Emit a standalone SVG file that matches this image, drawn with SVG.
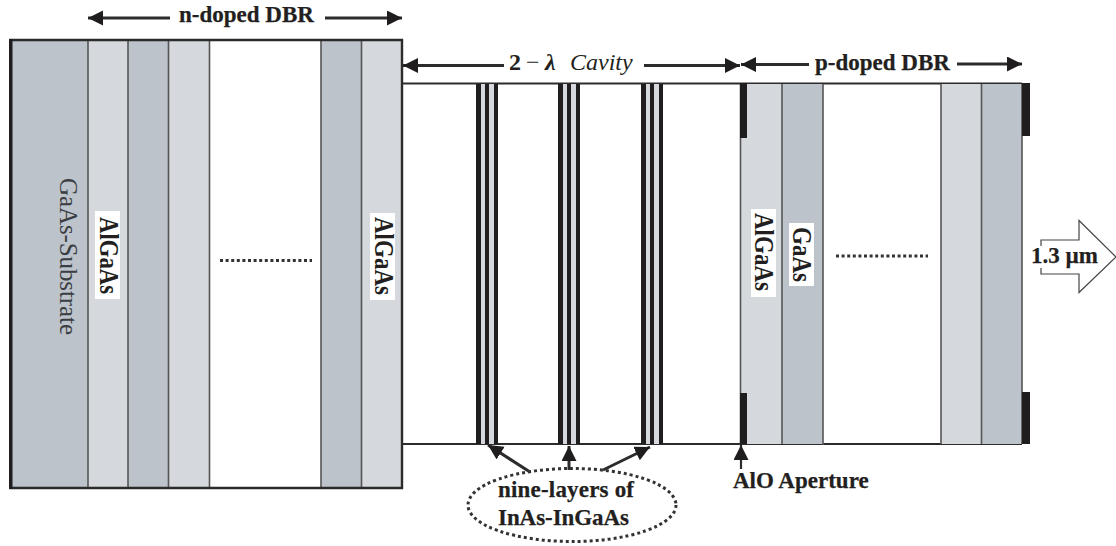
<svg xmlns="http://www.w3.org/2000/svg" width="1116" height="546" viewBox="0 0 1116 546">
<style>
.t{font-family:"Liberation Serif","Times New Roman",serif;fill:#231f20}
.b{font-weight:bold;font-size:23px;stroke:#231f20;stroke-width:.25}
.r{font-weight:bold;font-size:28px}
.dark{fill:#bcc3cb}
.light{fill:#d5d8dd}
.v{stroke:#555;stroke-width:1.6;fill:none}
.line{stroke:#2c2c2c;stroke-width:3;fill:none}
.k{fill:#1f1d1e}
.dots{stroke:#333;stroke-width:3;stroke-dasharray:3 2.600;fill:none}
.wb{fill:#fff}
</style>
<defs>
<marker id="ah" markerUnits="userSpaceOnUse" markerWidth="16" markerHeight="16" refX="15" refY="7.500" orient="auto-start-reverse"><path d="M0 0L15 7.500L0 15Z" fill="#1f1d1e"/></marker>
</defs>
<g id="n-dbr">
<rect x="10" y="40" width="78" height="448" class="dark"/>
<rect x="88" y="40" width="40" height="448" class="light"/>
<rect x="128" y="40" width="40" height="448" class="dark"/>
<rect x="168" y="40" width="41" height="448" class="light"/>
<rect x="321" y="40" width="40" height="448" class="dark"/>
<rect x="361" y="40" width="41" height="448" class="light"/>
<path class="v" d="M88 40V488M128 40V488M168.500 40V488M209.500 40V488M321 40V488M361.500 40V488"/>
<path d="M10.500 488V40H402V488Z" fill="none" stroke="#2b2b2b" stroke-width="2.400"/>
<rect x="9" y="39" width="3.500" height="450" class="k"/>
<text class="t" transform="translate(60 178) rotate(90)" font-size="25" style="fill:#3a3d42" textLength="157">GaAs-Substrate</text>
<rect x="95" y="211" width="25" height="88" class="wb"/>
<text class="t r" transform="translate(100 217) rotate(90)" textLength="77" lengthAdjust="spacingAndGlyphs">AlGaAs</text>
<rect x="370" y="213" width="25" height="87" class="wb"/>
<text class="t r" transform="translate(375 217) rotate(90)" textLength="78" lengthAdjust="spacingAndGlyphs">AlGaAs</text>
<path class="dots" d="M220 260.500H312"/>
</g>
<g id="cavity">
<path class="line" style="stroke-width:1.800" d="M402 83.500H1022M402 444H1022"/>
<g id="qw1"><rect x="476" y="84" width="22" height="360" class="light"/><path class="k" d="M476 84h5v360h-5zM485 84h4v360h-4zM494 84h4v360h-4z"/></g>
<g id="qw2"><rect x="558" y="84" width="22" height="360" class="light"/><path class="k" d="M558 84h5v360h-5zM567 84h4v360h-4zM576 84h4v360h-4z"/></g>
<g id="qw3"><rect x="641" y="84" width="22" height="360" class="light"/><path class="k" d="M641 84h5v360h-5zM650 84h4v360h-4zM659 84h4v360h-4z"/></g>
</g>
<g id="p-dbr">
<rect x="741" y="84" width="41" height="360" class="light"/>
<rect x="782" y="84" width="41" height="360" class="dark"/>
<rect x="941" y="84" width="40" height="360" class="light"/>
<rect x="981" y="84" width="41" height="360" class="dark"/>
<path class="v" d="M740.500 84V444M782 84V444M823 84V445M941 84V444M981.500 84V444M1022 84V444"/>
<rect x="740" y="83" width="7" height="55" class="k"/>
<rect x="740" y="393" width="7" height="51" class="k"/>
<rect x="1022" y="83" width="8" height="53" class="k"/>
<rect x="1022" y="392" width="8" height="52" class="k"/>
<rect x="751" y="209" width="25" height="88" class="wb"/>
<text class="t r" transform="translate(755 213) rotate(90)" textLength="78" lengthAdjust="spacingAndGlyphs">AlGaAs</text>
<rect x="789" y="223" width="25" height="63" class="wb"/>
<text class="t r" transform="translate(793 227) rotate(90)" textLength="55" lengthAdjust="spacingAndGlyphs">GaAs</text>
<path class="dots" d="M836 256H928"/>
</g>
<g id="connectors">
<path class="line" d="M88 18H170" marker-start="url(#ah)"/>
<path class="line" d="M325 18H402" marker-end="url(#ah)"/>
<path class="line" d="M403 65.500H504" marker-start="url(#ah)"/>
<path class="line" d="M644 65.500H740" marker-end="url(#ah)"/>
<path class="line" d="M741 64.500H809" marker-start="url(#ah)"/>
<path class="line" d="M957 64H1022" marker-end="url(#ah)"/>
<path class="line" d="M530 472L488 445" marker-end="url(#ah)"/>
<path class="line" d="M569 470V446" marker-end="url(#ah)"/>
<path class="line" d="M603 470L650 447" marker-end="url(#ah)"/>
<path class="line" style="stroke-width:2.200" d="M741 469V445" marker-end="url(#ah)"/>
</g>
<g id="ellipse-label">
<ellipse cx="572" cy="505" rx="104" ry="36.500" fill="none" stroke="#333" stroke-width="3" stroke-dasharray="3 3"/>
<text class="t b" x="498" y="497" textLength="136">nine-layers of</text>
<text class="t b" x="498" y="525" textLength="131">InAs-InGaAs</text>
</g>
<g id="output-arrow">
<path d="M1041 246V240H1079V220.500L1116 257L1079 292.500V274H1041V268" fill="#fff" stroke="#444" stroke-width="1.200"/>
<text class="t b" x="1031" y="263">1.3 µm</text>
</g>
<g id="labels">
<text class="t b" x="179" y="22">n-doped DBR</text>
<text class="t" font-size="24" y="70"><tspan x="509" font-weight="bold">2</tspan><tspan x="526">−</tspan><tspan x="545" font-style="italic" font-weight="bold">λ</tspan><tspan x="570" font-style="italic">Cavity</tspan></text>
<text class="t b" x="815" y="70">p-doped DBR</text>
<text class="t b" x="733" y="488">AlO Aperture</text>
</g>
</svg>
